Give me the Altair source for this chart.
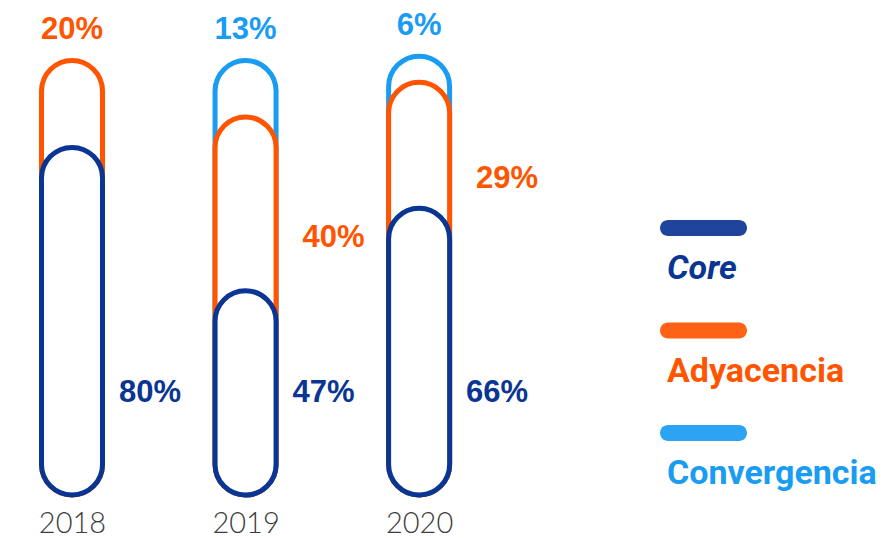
import altair as alt
import pandas as pd

years = [2018, 2019, 2020]
core = [80, 47, 66]
adyacencia = [20, 40, 29]
convergencia = [0, 13, 6]
series = ["Core", "Adyacencia", "Convergencia"]
colors = ["#0b3592", "#ff5500", "#1a9cf2"]

rows = []
for i, yr in enumerate(years):
    vals = [core[i], adyacencia[i], convergencia[i]]
    top_idx = max(k for k, v in enumerate(vals) if v > 0)
    base = 0
    for k, (s, v) in enumerate(zip(series, vals)):
        if v <= 0:
            continue
        rows.append(dict(year=yr, series=s, value=v, start=base, end=base + v,
                         mid=base + v / 2, label=f"{v}%",
                         pos="top" if k == top_idx else ("core" if k == 0 else "side"),
                         order=2 - k))
        base += v
df = pd.DataFrame(rows).sort_values(["order", "year"]).reset_index(drop=True)

cscale = alt.Scale(domain=series, range=colors)
pct_font = "Liberation Sans"

x = alt.X("year:Q",
          scale=alt.Scale(domain=[2017.66, 2021.29], nice=False, zero=False),
          axis=alt.Axis(values=years, format="d", domain=False, ticks=False, grid=False,
                        labelFont="Lato", labelFontSize=29, labelFontWeight=300,
                        labelColor="#3d3d3d", labelPadding=14, title=None))
yscale = alt.Scale(domain=[0, 112.08], nice=False)

base = alt.Chart(df).encode(x=x)

capsules = base.mark_bar(size=61, cornerRadius=30.5, fill="white", strokeWidth=5).encode(
    y=alt.Y("end:Q", scale=yscale, axis=None, stack=None),
    stroke=alt.Color("series:N", scale=cscale, legend=None),
)

top_lbl = base.transform_filter(alt.datum.pos == "top").mark_text(
    dy=-21, baseline="alphabetic", align="center", fontSize=31, fontWeight="bold", font=pct_font
).encode(y=alt.Y("end:Q", scale=yscale), text="label:N",
         color=alt.Color("series:N", scale=cscale, legend=None))

core_lbl = base.transform_filter(alt.datum.pos == "core").mark_text(
    dx=47, baseline="alphabetic", align="left", fontSize=31, fontWeight="bold", font=pct_font
).encode(y=alt.datum(21.4), text="label:N",
         color=alt.Color("series:N", scale=cscale, legend=None))

side_lbl = base.transform_filter(alt.datum.pos == "side").mark_text(
    dx=57, dy=43, baseline="alphabetic", align="left", fontSize=31, fontWeight="bold", font=pct_font
).encode(y=alt.Y("mid:Q", scale=yscale), text="label:N",
         color=alt.Color("series:N", scale=cscale, legend=None))

main = alt.layer(capsules, top_lbl, core_lbl, side_lbl).properties(width=640, height=487)

leg_df = pd.DataFrame({"series": series})
ly = alt.Y("series:N", sort=series,
           scale=alt.Scale(type="point", domain=series, range=[220, 425], padding=0),
           axis=None)
lbase = alt.Chart(leg_df).encode(y=ly, color=alt.Color("series:N", scale=cscale, legend=None))
swatch = lbase.mark_bar(size=16, cornerRadius=8, opacity=0.92).encode(
    x=alt.value(12), x2=alt.value(99))
leg_font = "Roboto"
ltext_core = lbase.transform_filter(alt.datum.series == "Core").mark_text(
    align="left", baseline="alphabetic", dy=51, fontSize=34, fontWeight="bold",
    fontStyle="italic", font=leg_font).encode(x=alt.value(19), text="series:N")
ltext_other = lbase.transform_filter(alt.datum.series != "Core").mark_text(
    align="left", baseline="alphabetic", dy=51, fontSize=34, fontWeight="bold",
    font=leg_font).encode(x=alt.value(19), text="series:N")
legend = alt.layer(swatch, ltext_core, ltext_other).properties(width=225, height=487)

chart = alt.hconcat(main, legend, spacing=0).properties(padding=0).configure_view(stroke=None)

chart.save("out.html", embed_options={"renderer": "svg", "actions": False})
